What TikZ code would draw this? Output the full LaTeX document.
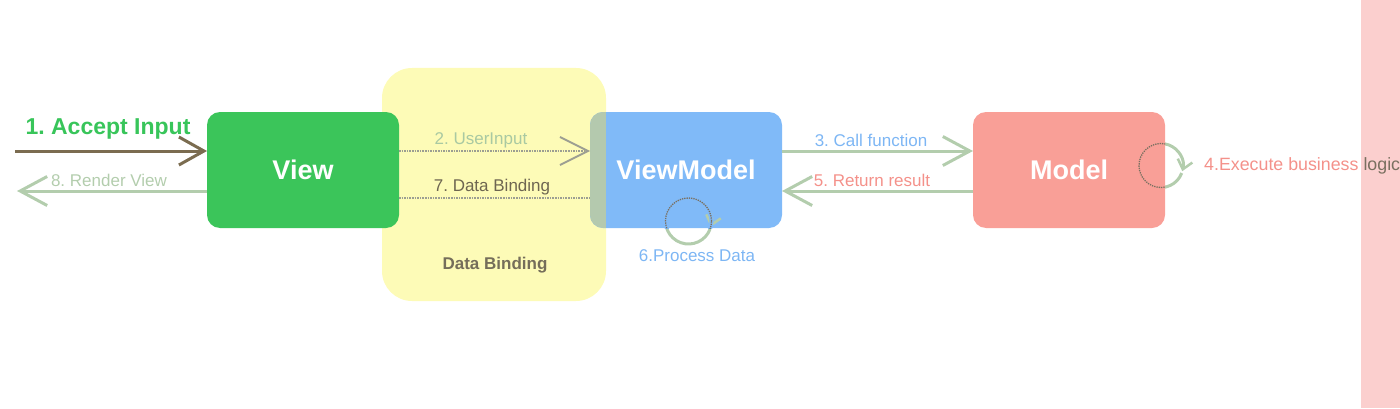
\documentclass[tikz,border=0pt]{standalone}
\usepackage{fontspec}
\setmainfont{Liberation Sans}
\usetikzlibrary{arrows.meta}
\frenchspacing
\definecolor{viewgreen}{HTML}{3BC55A}
\definecolor{vmblue}{HTML}{80BAF8}
\definecolor{modelred}{HTML}{F99F97}
\definecolor{dbyellow}{HTML}{FDFBB7}
\definecolor{strippink}{HTML}{FBCFCE}
\definecolor{overlapgray}{HTML}{B4C9AE}
\definecolor{arrowgreen}{HTML}{B3CDAD}
\definecolor{arrowbrown}{HTML}{7B6C50}
\definecolor{dotgray}{HTML}{9C9E92}
\definecolor{olive}{HTML}{6E6651}
\definecolor{labgreen}{HTML}{38C55A}
\definecolor{labblue}{HTML}{7DB6F4}
\definecolor{labred}{HTML}{F4918A}
\definecolor{labuser}{HTML}{A9C9A2}
\definecolor{loopdark}{HTML}{7A7060}
\tikzset{
  box/.style={rectangle, rounded corners=13pt, minimum width=192pt, minimum height=116pt,
    inner sep=0pt, outer sep=0pt, text=white, font=\fontsize{27}{30}\selectfont\bfseries},
  lab/.style={inner sep=0pt, font=\fontsize{17}{20}\selectfont},
  bigarrow/.style={line width=3pt, arrowgreen, -{Straight Barb[length=27pt,width=29pt,line width=3pt]}},
  looparrow/.style={line width=3pt, arrowgreen, -{Straight Barb[length=9pt,width=15pt,line width=2.5pt]}},
  dotline/.style={line width=1.6pt, dotgray, densely dotted}
}
\begin{document}
\begin{tikzpicture}[x=1pt,y=1pt]
\useasboundingbox (0,0) rectangle (1400,408);
% background strip
\fill[strippink] (1361,0) rectangle (1400,408);
% data binding region
\node[rectangle, rounded corners=30pt, fill=dbyellow, minimum width=224pt, minimum height=233pt, inner sep=0pt, outer sep=0pt] (db) at (494,223.5) {};
% boxes
\node[box, fill=viewgreen] (view) at (303,238) {};
\node[box, fill=vmblue] (vm) at (686,238) {};
\node[box, fill=modelred] (model) at (1069,238) {};
\begin{scope}
  \clip[rounded corners=13pt] (vm.south west) rectangle (vm.north east);
  \fill[overlapgray] (vm.south west) rectangle (db.north east |- vm.north);
\end{scope}
\node[box] at (view) {View};
\node[box] at (vm) {ViewModel};
\node[box] at (model) {Model};
\node[lab, font=\fontsize{17}{20}\selectfont\bfseries, text=olive!95] (dblab) at (495,143) {Data Binding};
% free ends
\coordinate (in1) at (15,257);
\coordinate (out8) at (17,217);
% arrows
\draw[line width=3pt, arrowbrown, -{Straight Barb[length=25pt,width=28pt,line width=3pt]}] (in1) -- ([yshift=19pt]view.west);
\draw[bigarrow] ([yshift=-21pt]view.west) -- (out8);
\draw[dotline, -{Straight Barb[length=28pt,width=28pt,line width=1.8pt]}] ([yshift=19pt]view.east) -- ([yshift=19pt]vm.west);
\draw[dotline] ([yshift=-28pt]view.east) -- ([yshift=-28pt]vm.west);
\draw[bigarrow] ([yshift=19pt]vm.east) -- ([yshift=19pt]model.west);
\draw[bigarrow] ([yshift=-21pt]model.west) -- ([yshift=-21pt]vm.east);
% loops
\coordinate (c4) at ([xshift=-4pt,yshift=4.5pt]model.east);
\coordinate (c6) at ([xshift=2.5pt,yshift=7pt]vm.south);
\draw[looparrow] ([shift={(340:22)}]c4) arc[start angle=340, end angle=-15, radius=22];
\begin{scope}
  \clip (model.south west) rectangle (model.north east);
  \draw[line width=4pt, modelred] (c4) circle[radius=22];
  \draw[line width=1.3pt, loopdark, densely dotted] (c4) circle[radius=22];
\end{scope}
\draw[looparrow] ([shift={(340:23)}]c6) arc[start angle=340, end angle=-15, radius=23];
\begin{scope}
  \clip (vm.south west) rectangle (vm.north east);
  \draw[line width=4pt, vmblue] (c6) circle[radius=23];
  \draw[line width=1.3pt, loopdark, densely dotted] (c6) circle[radius=23];
\end{scope}
% labels
\node[lab, font=\fontsize{23}{26}\selectfont\bfseries, text=labgreen] (l1) at (108,279) {1. Accept Input};
\node[lab, text=arrowgreen] (l8) at (109,228) {8. Render View};
\node[lab, text=labuser] (l2) at (481,268) {2. UserInput};
\node[lab, text=olive] (l7) at (492,221) {7. Data Binding};
\node[lab, text=labblue] (l3) at (871,268) {3. Call function};
\node[lab, text=labred] (l5) at (872,228) {5. Return result};
\node[lab, text=labblue] (l6) at (697,152) {6.Process Data};
\node[lab, anchor=west, font=\fontsize{17.8}{20}\selectfont] (l4) at (1204,242) {\textcolor{labred}{4.Execute business} \textcolor{loopdark}{logic}};
\end{tikzpicture}
\end{document}
